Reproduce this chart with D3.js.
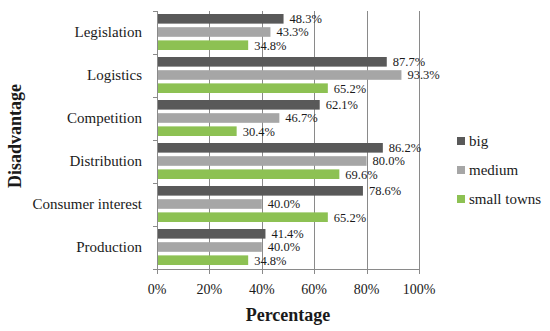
<!DOCTYPE html>
<html>
<head>
<meta charset="utf-8">
<script src="https://cdn.jsdelivr.net/npm/d3@7"></script>
<style>
	html, body { margin: 0; padding: 0; background: #fff; }
	svg text { font-family: "Liberation Serif", serif; fill: #1a1a1a; }
</style>
</head>
<body>
<svg id="chart" width="550" height="331"></svg>
<script>
;( function() {

	"use strict";

	//data, top to bottom as in the picture
	var categories = [ "Legislation", "Logistics", "Competition", "Distribution", "Consumer interest", "Production" ],
		seriesNames = [ "big", "medium", "small towns" ],
		bigValues = [ 48.3, 87.7, 62.1, 86.2, 78.6, 41.4 ],
		mediumValues = [ 43.3, 93.3, 46.7, 80.0, 40.0, 40.0 ],
		smallTownValues = [ 34.8, 65.2, 30.4, 69.6, 65.2, 34.8 ],
		xTicks = [ 0, 20, 40, 60, 80, 100 ];

	var colors = [ "#595959", "#a6a6a6", "#8dc153" ],
		axisColor = "#8a8a8a",
		plotLeft = 157,
		plotRight = 419,
		plotTop = 11,
		plotBottom = 269;

	var seriesValues = [ bigValues, mediumValues, smallTownValues ];

	var svg = d3.select( "#chart" );

	var x = d3.scaleLinear().domain( [ 0, 100 ] ).range( [ plotLeft, plotRight ] ),
		y0 = d3.scaleBand().domain( categories ).range( [ plotTop, plotBottom ] ),
		y1 = d3.scaleBand().domain( seriesNames ).range( [ 3, y0.bandwidth() - 4 ] ).paddingInner( 0.27 );

	//vertical gridlines
	svg.append( "g" )
		.attr( "class", "grid" )
		.selectAll( "line" )
		.data( xTicks.slice( 1 ) )
		.enter()
		.append( "line" )
			.attr( "x1", function( d ) { return Math.round( x( d ) ) + 0.5; } )
			.attr( "x2", function( d ) { return Math.round( x( d ) ) + 0.5; } )
			.attr( "y1", plotTop )
			.attr( "y2", plotBottom )
			.attr( "stroke", axisColor )
			.attr( "stroke-width", 1 );

	//bars, one group per category
	var groups = svg.append( "g" )
		.attr( "class", "bars" )
		.selectAll( "g" )
		.data( categories )
		.enter()
		.append( "g" )
			.attr( "transform", function( d ) { return "translate(0," + y0( d ) + ")"; } );

	var barData = function( d, i ) {
		return seriesNames.map( function( s, j ) {
			return { series: s, value: seriesValues[ j ][ i ], color: colors[ j ] };
		} );
	};

	groups.selectAll( "rect" )
		.data( barData )
		.enter()
		.append( "rect" )
			.attr( "x", x( 0 ) )
			.attr( "y", function( d ) { return y1( d.series ); } )
			.attr( "width", function( d ) { return x( d.value ) - x( 0 ); } )
			.attr( "height", y1.bandwidth() )
			.style( "fill", function( d ) { return d.color; } );

	groups.selectAll( "text" )
		.data( barData )
		.enter()
		.append( "text" )
			.attr( "x", function( d ) { return x( d.value ) + 6; } )
			.attr( "y", function( d ) { return y1( d.series ) + y1.bandwidth() / 2; } )
			.attr( "dy", "0.35em" )
			.style( "font-size", "12.5px" )
			.text( function( d ) { return d.value.toFixed( 1 ) + "%"; } );

	//axis lines
	var axes = svg.append( "g" ).attr( "class", "axes" );
	axes.append( "line" )
		.attr( "x1", plotLeft + 0.5 ).attr( "x2", plotLeft + 0.5 )
		.attr( "y1", plotTop ).attr( "y2", plotBottom )
		.attr( "stroke", axisColor );
	axes.append( "line" )
		.attr( "x1", plotLeft ).attr( "x2", plotRight + 1 )
		.attr( "y1", plotBottom + 0.5 ).attr( "y2", plotBottom + 0.5 )
		.attr( "stroke", axisColor );

	//category boundary ticks on the left
	var boundaries = categories.map( function( d ) { return y0( d ); } ).concat( [ plotBottom ] );
	axes.selectAll( ".ytick" )
		.data( boundaries )
		.enter()
		.append( "line" )
			.attr( "class", "ytick" )
			.attr( "x1", plotLeft - 4 ).attr( "x2", plotLeft )
			.attr( "y1", function( d ) { return Math.round( d ) + 0.5; } )
			.attr( "y2", function( d ) { return Math.round( d ) + 0.5; } )
			.attr( "stroke", axisColor );

	//percentage ticks on the bottom
	axes.selectAll( ".xtick" )
		.data( xTicks )
		.enter()
		.append( "line" )
			.attr( "class", "xtick" )
			.attr( "x1", function( d ) { return Math.round( x( d ) ) + 0.5; } )
			.attr( "x2", function( d ) { return Math.round( x( d ) ) + 0.5; } )
			.attr( "y1", plotBottom ).attr( "y2", plotBottom + 5 )
			.attr( "stroke", axisColor );

	axes.selectAll( ".xlabel" )
		.data( xTicks )
		.enter()
		.append( "text" )
			.attr( "class", "xlabel" )
			.attr( "x", function( d ) { return x( d ); } )
			.attr( "y", 294 )
			.attr( "text-anchor", "middle" )
			.style( "font-size", "14px" )
			.text( function( d ) { return d + "%"; } );

	//category labels
	axes.selectAll( ".ylabel" )
		.data( categories )
		.enter()
		.append( "text" )
			.attr( "class", "ylabel" )
			.attr( "x", 142 )
			.attr( "y", function( d ) { return y0( d ) + y0.bandwidth() / 2; } )
			.attr( "dy", "0.33em" )
			.attr( "text-anchor", "end" )
			.style( "font-size", "15px" )
			.text( function( d ) { return d; } );

	//axis titles
	svg.append( "text" )
		.attr( "x", ( plotLeft + plotRight ) / 2 )
		.attr( "y", 321 )
		.attr( "text-anchor", "middle" )
		.style( "font-size", "18px" )
		.style( "font-weight", "bold" )
		.text( "Percentage" );

	svg.append( "text" )
		.attr( "transform", "translate(21,136) rotate(-90)" )
		.attr( "text-anchor", "middle" )
		.style( "font-size", "18px" )
		.style( "font-weight", "bold" )
		.text( "Disadvantage" );

	//legend
	var legend = svg.append( "g" )
		.attr( "class", "legend" )
		.selectAll( "g" )
		.data( seriesNames )
		.enter()
		.append( "g" )
			.attr( "transform", function( d, i ) { return "translate(457," + ( 137 + i * 29 ) + ")"; } );
	legend.append( "rect" )
		.attr( "width", 8 )
		.attr( "height", 8 )
		.style( "fill", function( d, i ) { return colors[ i ]; } );
	legend.append( "text" )
		.attr( "x", 12 )
		.attr( "y", 4 )
		.attr( "dy", "0.35em" )
		.style( "font-size", "15px" )
		.text( function( d ) { return d; } );

})();
</script>
</body>
</html>
